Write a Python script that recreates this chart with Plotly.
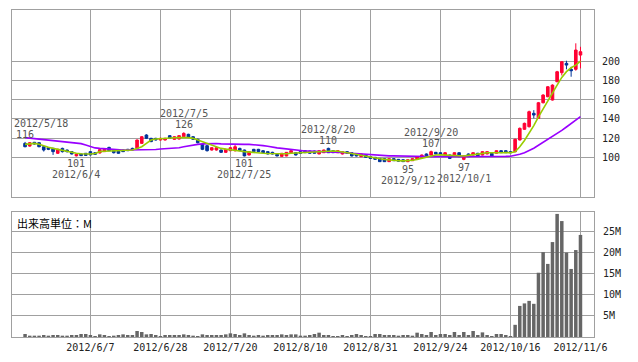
import plotly.graph_objects as go

DATES = [
    "2012/5/18", "2012/5/21", "2012/5/22", "2012/5/23", "2012/5/24", "2012/5/25",
    "2012/5/28", "2012/5/29", "2012/5/30", "2012/5/31", "2012/6/1",
    "2012/6/4", "2012/6/5", "2012/6/6", "2012/6/7", "2012/6/8",
    "2012/6/11", "2012/6/12", "2012/6/13", "2012/6/14", "2012/6/15",
    "2012/6/18", "2012/6/19", "2012/6/20", "2012/6/21", "2012/6/22",
    "2012/6/25", "2012/6/26", "2012/6/27", "2012/6/28", "2012/6/29",
    "2012/7/2", "2012/7/3", "2012/7/4", "2012/7/5", "2012/7/6",
    "2012/7/9", "2012/7/10", "2012/7/11", "2012/7/12", "2012/7/13",
    "2012/7/17", "2012/7/18", "2012/7/19", "2012/7/20",
    "2012/7/23", "2012/7/24", "2012/7/25", "2012/7/26", "2012/7/27",
    "2012/7/30", "2012/7/31", "2012/8/1", "2012/8/2", "2012/8/3",
    "2012/8/6", "2012/8/7", "2012/8/8", "2012/8/9", "2012/8/10",
    "2012/8/13", "2012/8/14", "2012/8/15", "2012/8/16", "2012/8/17",
    "2012/8/20", "2012/8/21", "2012/8/22", "2012/8/23", "2012/8/24",
    "2012/8/27", "2012/8/28", "2012/8/29", "2012/8/30", "2012/8/31",
    "2012/9/3", "2012/9/4", "2012/9/5", "2012/9/6", "2012/9/7",
    "2012/9/10", "2012/9/11", "2012/9/12", "2012/9/13", "2012/9/14",
    "2012/9/18", "2012/9/19", "2012/9/20", "2012/9/21",
    "2012/9/24", "2012/9/25", "2012/9/26", "2012/9/27", "2012/9/28",
    "2012/10/1", "2012/10/2", "2012/10/3", "2012/10/4", "2012/10/5",
    "2012/10/9", "2012/10/10", "2012/10/11", "2012/10/12",
    "2012/10/15", "2012/10/16", "2012/10/17", "2012/10/18", "2012/10/19",
    "2012/10/22", "2012/10/23", "2012/10/24", "2012/10/25", "2012/10/26",
    "2012/10/29", "2012/10/30", "2012/10/31", "2012/11/1", "2012/11/2",
    "2012/11/5", "2012/11/6",
]

OPEN = [
    114.5, 111.7, 115.6, 115.2, 111.0, 110.0, 109.3, 104.2, 109.3, 107.6,
    105.9, 101.5, 103.5, 104.2, 105.9, 104.8, 104.5, 105.9, 110.3, 106.9,
    106.5, 107.6, 108.3, 109.3, 109.3, 114.5, 123.2, 119.7, 119.7, 118.0,
    118.0, 122.5, 118.7, 119.0, 121.4, 123.9, 121.4, 118.7, 113.5, 112.1,
    107.6, 107.6, 107.6, 105.2, 106.9, 106.9, 109.3, 107.6, 102.4, 108.3,
    108.3, 106.9, 105.9, 105.2, 103.1, 101.0, 101.4, 104.8, 104.8, 105.9,
    106.9, 106.5, 106.5, 103.5, 104.8, 109.3, 106.9, 104.8, 103.5, 105.9,
    104.8, 103.5, 100.7, 102.4, 100.7, 100.0, 98.9, 98.6, 95.5, 98.6,
    97.9, 97.5, 95.5, 96.5, 97.9, 100.0, 103.5, 102.4, 105.2, 104.8,
    102.4, 102.4, 101.4, 104.8, 97.9, 103.5, 102.4, 104.2, 102.4, 103.5,
    104.2, 104.2, 106.9, 106.9, 105.9, 105.8, 118.0, 129.1, 131.8, 145.7,
    140.5, 156.7, 162.9, 159.5, 178.5, 187.9, 197.6, 191.4, 191.4, 206.2,
]
HIGH = [
    116.0, 115.8, 116.0, 115.6, 111.5, 110.5, 110.0, 109.0, 110.0, 108.0,
    106.5, 103.8, 104.0, 104.5, 106.5, 105.2, 108.5, 108.8, 111.0, 107.5,
    107.0, 108.0, 108.8, 110.0, 118.5, 122.0, 124.0, 120.3, 120.3, 120.5,
    120.3, 123.0, 122.0, 123.0, 126.0, 124.5, 122.0, 119.5, 114.0, 112.5,
    110.5, 111.0, 108.0, 109.0, 110.5, 112.8, 110.0, 108.0, 106.5, 108.8,
    108.8, 107.5, 106.3, 105.8, 103.5, 104.5, 105.5, 107.3, 105.2, 106.3,
    107.3, 107.0, 107.0, 107.3, 108.0, 110.0, 107.3, 107.3, 106.3, 106.3,
    105.2, 104.0, 103.8, 102.8, 101.2, 100.4, 99.3, 99.0, 98.9, 99.0,
    98.3, 97.9, 97.9, 98.9, 101.0, 102.8, 104.0, 107.0, 105.6, 105.2,
    105.2, 102.8, 105.2, 105.2, 101.8, 104.0, 105.2, 104.6, 106.3, 106.3,
    104.6, 107.3, 107.3, 107.3, 106.3, 119.5, 131.0, 136.0, 148.5, 149.0,
    157.5, 165.5, 174.0, 175.8, 189.8, 200.0, 200.3, 194.0, 218.4, 214.8,
]
LOW = [
    110.5, 111.0, 113.2, 110.5, 106.0, 107.5, 102.5, 103.5, 105.0, 105.0,
    103.0, 101.0, 101.3, 101.5, 102.0, 102.7, 104.0, 105.5, 106.5, 104.0,
    103.8, 105.5, 106.5, 107.0, 109.0, 114.0, 119.0, 115.8, 117.5, 117.5,
    117.5, 119.3, 118.3, 118.5, 121.0, 120.0, 118.0, 114.5, 107.5, 106.0,
    107.0, 107.0, 104.8, 104.8, 106.5, 106.0, 106.5, 101.0, 102.0, 105.5,
    105.5, 104.5, 103.0, 103.0, 101.2, 101.0, 101.2, 104.5, 102.0, 103.8,
    104.5, 103.8, 104.0, 103.2, 104.5, 104.5, 104.5, 104.5, 103.0, 103.8,
    101.0, 101.0, 100.3, 99.7, 98.6, 97.5, 95.3, 95.3, 95.3, 96.2,
    95.5, 95.2, 95.0, 96.2, 97.5, 99.7, 100.3, 102.0, 103.2, 103.2,
    102.0, 98.5, 101.0, 100.3, 97.0, 100.3, 102.0, 101.0, 102.0, 103.2,
    101.0, 103.8, 104.5, 104.5, 104.5, 105.5, 117.5, 128.5, 131.0, 140.5,
    140.0, 156.0, 162.5, 159.0, 178.0, 185.0, 191.4, 183.7, 190.0, 192.4,
]
CLOSE = [
    111.0, 115.2, 113.8, 111.0, 107.6, 108.3, 105.9, 108.3, 105.9, 105.9,
    103.5, 103.3, 101.8, 102.0, 102.5, 103.1, 108.0, 108.3, 106.9, 104.8,
    104.2, 105.9, 106.9, 107.6, 118.0, 121.4, 119.7, 116.3, 118.0, 119.7,
    119.7, 119.7, 121.4, 122.5, 124.9, 120.7, 118.7, 115.2, 108.3, 106.9,
    110.0, 110.0, 105.2, 108.3, 110.0, 111.0, 106.9, 101.5, 105.9, 105.9,
    105.9, 104.8, 103.5, 103.5, 101.4, 104.2, 105.2, 106.9, 102.4, 104.2,
    104.8, 104.2, 104.2, 106.9, 107.6, 104.8, 104.8, 106.9, 105.9, 104.2,
    101.4, 101.4, 103.5, 100.0, 98.9, 97.9, 95.5, 95.5, 98.6, 96.5,
    96.0, 95.5, 97.5, 98.6, 100.7, 102.4, 100.7, 105.9, 103.5, 103.5,
    104.8, 98.9, 104.8, 100.7, 101.4, 100.7, 104.8, 101.4, 105.9, 105.9,
    101.4, 106.9, 104.8, 104.8, 104.8, 118.7, 130.1, 135.3, 147.4, 143.9,
    156.7, 164.7, 173.3, 175.0, 188.9, 199.3, 195.8, 189.9, 211.4, 209.7,
]

MA_SHORT = [
    113.5, 114.0, 114.5, 113.5, 111.7, 110.5, 109.3, 108.3, 107.0, 105.9,
    105.0, 104.2, 103.8, 103.5, 103.5, 104.0, 105.9, 106.3, 106.6, 106.9,
    107.0, 107.2, 107.4, 107.6, 109.3, 111.0, 114.5, 118.0, 119.0, 119.5,
    119.7, 120.0, 120.3, 120.5, 120.7, 120.5, 119.7, 118.0, 116.0, 114.5,
    112.8, 110.5, 109.3, 108.5, 107.6, 107.0, 106.5, 105.9, 105.3, 104.8,
    104.5, 104.2, 104.0, 103.8, 103.5, 103.5, 103.8, 104.2, 104.5, 104.8,
    105.0, 105.0, 105.2, 105.3, 105.8, 106.2, 106.6, 106.3, 105.8, 104.8,
    104.0, 103.0, 102.0, 101.4, 100.5, 99.5, 98.5, 97.9, 97.2, 96.8,
    96.5, 96.3, 96.5, 97.0, 97.9, 99.0, 100.3, 101.5, 102.4, 102.6,
    102.4, 102.0, 101.4, 101.4, 101.4, 102.0, 102.8, 103.5, 104.2, 104.8,
    104.8, 104.5, 104.8, 105.0, 104.8, 105.8, 111.0, 117.5, 124.9, 133.0,
    142.0, 150.5, 159.5, 166.5, 175.0, 183.0, 189.0, 193.0, 195.8, 200.0,
]
MA_LONG = [
    120.5, 120.0, 119.5, 119.0, 118.7, 118.2, 117.8, 117.2, 116.6, 116.0,
    115.6, 115.2, 114.2, 112.8, 111.0, 109.8, 109.3, 108.9, 108.3, 108.0,
    107.8, 107.6, 107.6, 107.6, 107.6, 107.6, 107.6, 107.8, 108.2, 108.6,
    108.8, 109.0, 109.3, 110.0, 111.0, 112.0, 112.8, 113.5, 114.0, 114.3,
    114.5, 114.3, 114.0, 113.8, 113.5, 113.5, 113.5, 113.5, 113.5, 113.2,
    112.8, 112.2, 111.5, 110.5, 109.8, 109.3, 108.6, 108.0, 107.4, 106.9,
    106.6, 106.4, 106.2, 106.1, 106.0, 105.9, 105.9, 105.6, 105.2, 104.8,
    104.2, 103.8, 103.4, 102.9, 102.4, 102.0, 101.8, 101.6, 101.5, 101.5,
    101.5, 101.3, 101.2, 101.0, 100.9, 100.8, 100.8, 100.7, 100.7, 100.7,
    100.7, 100.6, 100.5, 100.5, 100.4, 100.4, 100.4, 100.5, 100.6, 100.6,
    100.7, 100.8, 100.9, 101.0, 101.2, 102.0, 103.2, 104.8, 106.8, 109.5,
    112.5, 115.5, 118.5, 121.5, 124.5, 128.0, 131.5, 135.0, 138.5, 142.2,
]

VOLUME_M = [
    0.71, 0.32, 0.32, 0.32, 0.48, 0.32, 0.48, 0.48, 0.32, 0.32,
    0.48, 0.48, 0.71, 0.71, 0.48, 0.24, 0.63, 0.48, 0.24, 0.32,
    0.48, 0.63, 0.48, 0.48, 1.43, 1.19, 0.63, 0.71, 0.48, 0.24,
    0.48, 0.48, 0.48, 0.48, 0.63, 0.48, 0.32, 0.24, 0.63, 0.48,
    0.48, 0.48, 0.48, 0.63, 0.87, 0.71, 0.48, 0.87, 0.48, 0.32,
    0.48, 0.32, 0.48, 0.48, 0.48, 0.63, 0.48, 0.63, 0.63, 0.32,
    0.32, 0.48, 0.71, 1.03, 0.48, 0.48, 0.24, 0.24, 0.48, 0.24,
    0.48, 0.71, 0.48, 0.24, 0.24, 0.71, 0.71, 0.48, 0.48, 0.48,
    0.32, 0.48, 0.48, 0.32, 1.03, 0.71, 0.48, 1.19, 0.48, 0.71,
    0.71, 0.48, 1.19, 0.48, 1.19, 0.48, 1.43, 0.48, 1.10, 0.48,
    0.24, 0.71, 0.71, 0.48, 0.24, 2.9, 7.4, 8.0, 8.6, 7.9,
    15.3, 20.2, 17.4, 22.6, 29.3, 27.6, 20.1, 16.2, 20.7, 24.3,
]

TICK_DATES = ["2012/6/7", "2012/6/28", "2012/7/20", "2012/8/10",
              "2012/8/31", "2012/9/24", "2012/10/16", "2012/11/6"]
PRICE_TICKS = [100, 120, 140, 160, 180, 200]
VOLUME_TICKS = [5, 10, 15, 20, 25]
VOLUME_TICK_TEXT = ["5M", "10M", "15M", "20M", "25M"]

LABEL_DATES = ["2012/5/18", "2012/6/4", "2012/7/5", "2012/7/25",
               "2012/8/20", "2012/9/12", "2012/9/20", "2012/10/1"]
LABEL_KINDS = ["high", "low", "high", "low", "high", "low", "high", "low"]

RED = "#ff0033"
BLUE = "#003399"
GREEN = "#99cc00"
PURPLE = "#9900ff"
GRID = "#a0a0a0"
MONO = "DejaVu Sans Mono"

fig = go.Figure()
fig.add_trace(go.Candlestick(
    x=DATES, open=OPEN, high=HIGH, low=LOW, close=CLOSE,
    xaxis="x2", yaxis="y2", whiskerwidth=0,
    increasing=dict(line=dict(color=RED, width=1), fillcolor=RED),
    decreasing=dict(line=dict(color=BLUE, width=1), fillcolor=BLUE),
    showlegend=False, hoverinfo="skip",
))
fig.add_trace(go.Scatter(x=DATES, y=MA_LONG, mode="lines", xaxis="x2", yaxis="y2",
                         line=dict(color=PURPLE, width=1.6), showlegend=False, hoverinfo="skip"))
fig.add_trace(go.Scatter(x=DATES, y=MA_SHORT, mode="lines", xaxis="x2", yaxis="y2",
                         line=dict(color=GREEN, width=1.6), showlegend=False, hoverinfo="skip"))
fig.add_trace(go.Bar(x=DATES, y=VOLUME_M, xaxis="x", yaxis="y", width=0.75,
                     marker=dict(color="#666666", line=dict(width=0)),
                     showlegend=False, hoverinfo="skip"))

XR = [-2.8, 121.9]
axis_common = dict(showgrid=True, gridcolor=GRID, gridwidth=1, showline=True, mirror=True,
                   linecolor=GRID, linewidth=1, zeroline=False, ticks="",
                   tickfont=dict(family=MONO, size=10, color="#222"))

# The page body has an 8px default margin, so the figure is sized to fill the
# remaining window area.
fig.update_layout(
    width=630, height=354,
    margin=dict(l=4, r=44, t=2, b=25),
    paper_bgcolor="white", plot_bgcolor="white",
    boxgap=0.2,
    xaxis=dict(type="category", range=XR, domain=[0, 1], anchor="y",
               tickvals=TICK_DATES, ticktext=TICK_DATES, ticklabelstandoff=1,
               rangeslider=dict(visible=False), **axis_common),
    xaxis2=dict(type="category", range=XR, domain=[0, 1], anchor="y2", matches="x",
                tickvals=TICK_DATES, showticklabels=False,
                rangeslider=dict(visible=False), **axis_common),
    yaxis=dict(domain=[0, 0.3823], range=[0, 29.76], side="right",
               tickvals=VOLUME_TICKS, ticktext=VOLUME_TICK_TEXT,
               ticklabelstandoff=6, **axis_common),
    yaxis2=dict(domain=[0.4281, 1], range=[58.8, 253], side="right",
                tickvals=PRICE_TICKS, ticklabelstandoff=5, **axis_common),
)

ann_font = dict(family=MONO, size=10, color="#555555")
for d, kind in zip(LABEL_DATES, LABEL_KINDS):
    i = DATES.index(d)
    if kind == "high":
        v = HIGH[i]
        fig.add_annotation(x=d, y=v, xref="x2", yref="y2", text=f"{round(v)}",
                           showarrow=False, yanchor="bottom", yshift=0, font=ann_font)
        if i < 6:
            fig.add_annotation(x=0, xref="paper", y=v, yref="y2", text=d, xanchor="left",
                               showarrow=False, yanchor="bottom", yshift=11, font=ann_font)
        else:
            fig.add_annotation(x=d, y=v, xref="x2", yref="y2", text=d,
                               showarrow=False, yanchor="bottom", yshift=11, font=ann_font)
    else:
        v = LOW[i]
        fig.add_annotation(x=d, y=v, xref="x2", yref="y2", text=f"{round(v)}",
                           showarrow=False, yanchor="top", yshift=0, font=ann_font)
        fig.add_annotation(x=d, y=v, xref="x2", yref="y2", text=d,
                           showarrow=False, yanchor="top", yshift=-11, font=ann_font)

fig.add_annotation(x=0.006, y=0.3495, xref="paper", yref="paper", text="出来高単位：M",
                   xanchor="left", yanchor="middle", showarrow=False,
                   font=dict(family="Noto Sans CJK JP", size=11, color="#000"))

fig.write_html("out.html")
